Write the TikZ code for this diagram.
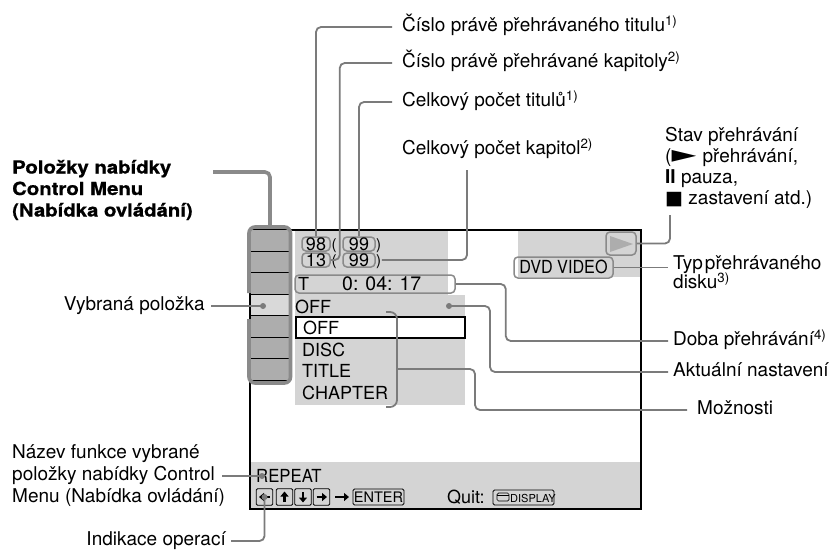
\documentclass[tikz,border=0pt]{standalone}
\usepackage{fontspec}
\setmainfont{TeX Gyre Heros}
\newfontfamily\symfont{DejaVu Sans}
\newfontfamily\heavyfont[FakeStretch=1.13,FakeBold=0.8]{TeX Gyre Heros}
\usetikzlibrary{arrows.meta,calc}
\definecolor{leadc}{HTML}{7B7B7B}
\definecolor{areac}{HTML}{D4D4D4}
\definecolor{rowc}{HTML}{ADADAD}
\definecolor{selc}{HTML}{D9D9D9}
\definecolor{boxc}{HTML}{8A8A8A}
\newcommand\lblfont{\fontsize{19}{22}\selectfont}
\newcommand\scrfont{\fontsize{18}{21}\selectfont}
\tikzset{
  lbl/.style={inner sep=0pt, font=\lblfont, text height=13.5pt, text depth=4pt, anchor=west},
  lble/.style={lbl, anchor=east},
  scr/.style={inner sep=0pt, font=\scrfont, text height=13pt, text depth=0pt, anchor=west},
  paren/.style={inner sep=0pt, font=\fontsize{15}{16}\selectfont, text height=11pt, text depth=0pt, anchor=west},
  head/.style={inner sep=0pt, font={\heavyfont\bfseries\fontsize{18}{21}\selectfont}, text height=13pt, text depth=4pt, anchor=west},
  leader/.style={draw=leadc, line width=1.8pt, rounded corners=5pt},
  rbox/.style={draw=boxc, line width=1.5pt, rounded corners=4pt, inner sep=0pt, font=\scrfont, text height=12.5pt, text depth=0pt},
  keybox/.style={draw=black, line width=0.9pt, rounded corners=1.2pt, minimum width=16.5pt, minimum height=16.5pt, inner sep=0pt},
  keyarr/.style={line width=2.2pt, -{Triangle[length=5pt,width=8pt]}},
  ldot/.style={circle, fill=leadc, inner sep=0pt, minimum size=6pt},
}
\begin{document}
\begin{tikzpicture}[x=1pt,y=-1pt]
\useasboundingbox (0,0) rectangle (831,552);
\fill[white] (0,0) rectangle (831,552);

% ---------- screen ----------
\fill[areac] (295,230) rectangle (448,295);
\fill[areac] (295,295) rectangle (465,405);
\fill[areac] (518,230) rectangle (641,277);
\fill[areac] (250,462) rectangle (641,509);
\draw[line width=1.6pt] (250,230) rectangle (641,509);

% menu column
\foreach \i in {0,1,2,4,5,6} \fill[rowc] (251,{230+21.43*\i}) rectangle (289.5,{230+21.43*(\i+1)});
\fill[selc] (251,{230+21.43*3}) rectangle (289.5,{230+21.43*4});
\foreach \i in {1,...,7} \draw[line width=1pt] (251,{230+21.43*\i}) -- (289.5,{230+21.43*\i});
\draw[line width=0.8pt] (289,230) -- (289,380);
\draw[boxc, line width=3.6pt, rounded corners=6pt] (249,293) -- (249,227) -- (290.5,227) -- (290.5,383) -- (249,383) -- (249,319);
\coordinate (colTop) at (270,227);
\node[ldot] (dotV) at (263,306) {};

% numbers
\node[rbox, minimum width=28pt, minimum height=14pt] (b98) at (316,244) {98};
\node[paren] (p1) at (331.5,244) {(};
\node[rbox, minimum width=32pt, minimum height=14pt] (b99a) at (359,244) {99};
\node[paren] (p2) at (376,244) {)};
\node[rbox, minimum width=28pt, minimum height=14pt] (b13) at (316,260) {13};
\node[paren] (p3) at (331.5,260) {(};
\node[rbox, minimum width=32pt, minimum height=14pt] (b99b) at (359,260) {99};
\node[paren] (p4) at (376,260) {)};

% time
\node[rbox, minimum width=160pt, minimum height=18pt] (tbox) at (375,284) {};
\node[scr] (tT) at (298,284) {T};
\node[scr, font=\fontsize{19.5}{21}\selectfont] (tTime) at (342,284) {0:\hspace{7pt}04:\hspace{7pt}17};

% options
\node[scr] (off0) at (295,307) {OFF};
\node[ldot] (dotA) at (449,306) {};
\node[draw, line width=1.2pt, fill=white, minimum width=169pt, minimum height=21pt, inner sep=0pt] (selbox) at (380.5,327.5) {};
\node[scr] (o1) at (303,328) {OFF};
\node[scr] (o2) at (302,349.5) {DISC};
\node[scr] (o3) at (302,371) {TITLE};
\node[scr] (o4) at (302,392.5) {CHAPTER};
\draw[leadc, line width=1.8pt, rounded corners=7pt] (386,312) -- (397,312) -- (397,407) -- (386,407);
\coordinate (brc) at (397,369);

% top right
\node[rbox, minimum width=30pt, minimum height=23pt] (play) at (621,243.5) {};
\fill[rowc] (610,236) -- (633,244) -- (610,252) -- cycle;
\node[rbox, minimum width=99pt, minimum height=21pt] (dvd) at (563.5,267.5) {\scalebox{0.9}[1]{DVD VIDEO}};

% bottom strip
\node[scr] (rep) at (256,476) {\scalebox{0.93}[1]{REPEAT}};
\node[ldot] (repDot) at (262,476) {};
\node[keybox] (k1) at (264.5,497) {};
\node[keybox] (k2) at (284.5,497) {};
\node[keybox] (k3) at (303,497) {};
\node[keybox] (k4) at (321.5,497) {};
\draw[keyarr] ([xshift=5pt]k1.center) -- ([xshift=-5.5pt]k1.center);
\draw[keyarr] ([yshift=-5pt]k2.center) -- ([yshift=5.5pt]k2.center);
\draw[keyarr] ([yshift=5pt]k3.center) -- ([yshift=-5.5pt]k3.center);
\draw[keyarr] ([xshift=-5pt]k4.center) -- ([xshift=5.5pt]k4.center);
\node[ldot] (indDot) at (264.5,497) {};
\coordinate (ea) at (335,497);
\coordinate (eb) at (349,497);
\draw[keyarr] (ea) -- (eb);
\node[draw, line width=0.9pt, rounded corners=1.5pt, minimum width=51pt, minimum height=16pt, inner sep=0pt, font=\fontsize{14.5}{15}\selectfont] (enter) at (378.5,497) {ENTER};
\node[scr] (quit) at (447,497) {Quit:};
\node[draw, line width=0.9pt, rounded corners=1.5pt, minimum width=61pt, minimum height=15pt, inner sep=0pt] (disp) at (523.5,497.5) {};
\draw[line width=0.7pt, rounded corners=1.5pt] (497,493) rectangle (509,501);
\draw[line width=0.7pt] (497,495.5) -- (509,495.5);
\node[inner sep=0pt, anchor=west, font=\fontsize{11}{12}\selectfont] (dispt) at (510,498) {DISPLAY};

% ---------- labels ----------
\node[lbl] (l1) at (402,27) {Číslo právě přehrávaného titulu\textsuperscript{1)}};
\node[lbl] (l2) at (402,63) {Číslo právě přehrávané kapitoly\textsuperscript{2)}};
\node[lbl] (l3) at (402,102) {Celkový počet titulů\textsuperscript{1)}};
\node[lbl] (l4) at (402,150) {Celkový počet kapitol\textsuperscript{2)}};
\coordinate (l4p) at (467,170);

\node[lbl] (st1) at (665,137) {Stav přehrávání};
\node[lbl] (st2) at (665,158) {(\raisebox{0.5pt}{\symfont\scalebox{1.7}[1.25]{►}}\hspace{1pt} přehrávání,};
\node[lbl] (st3) at (665,179) {\textbf{II} pauza,};
\node[lbl] (st4) at (665,200) {{\symfont ■} zastavení atd.)};
\coordinate (stEnd) at (670,215);

\node[lbl] (ty1) at (673,265) {Typ\hspace{2pt}přehrávaného};
\node[lbl] (ty2) at (673,284) {disku\textsuperscript{3)}};
\node[lbl] (db) at (673,341) {Doba přehrávání\textsuperscript{4)}};
\node[lbl] (ak) at (673,372) {Aktuální nastavení};
\node[lbl] (mz) at (697,410) {Možnosti};

\node[head] (hd1) at (12,169) {Položky nabídky};
\node[head] (hd2) at (12,190.5) {Control Menu};
\node[head] (hd3) at (12,212) {(Nabídka ovládání)};
\coordinate (hdl) at (213,172);

\node[lble] (vy) at (205,306) {Vybraná položka};
\node[lbl] (nz1) at (12,454) {Název funkce vybrané};
\node[lbl] (nz2) at (12,476) {položky nabídky Control};
\node[lbl] (nz3) at (12,498) {Menu (Nabídka ovládání)};
\node[lble] (ind) at (226,541) {Indikace operací};

% ---------- leaders ----------
\draw[leader] ([xshift=-10pt]l1.west) -| (b98.north);
\draw[leader] ([xshift=-10pt]l2.west) -| ([xshift=9pt]b13.east) -- (b13.east);
\draw[leader] ([xshift=-10pt]l3.west) -| (b99a.north);
\draw[leader] (l4p) |- ([xshift=6pt]b99b.east);
\draw[leader] (play.east) -| (stEnd);
\draw[leader] (dvd.east) -- ($(dvd.east -| ty1.west)+(-5,0)$);
\draw[leader] (tbox.east) -- ++(50,0) |- ([xshift=-5pt]db.west);
\draw[leader] (dotA.center) -- ++(41,0) |- ([xshift=-5pt]ak.west);
\draw[leader] (brc) -- ++(78,0) |- ([xshift=-10pt]mz.west);
\draw[leader, line width=3.6pt, draw=boxc] (hdl) -| (colTop);
\draw[leader] ([xshift=6pt]vy.east) -- (dotV.center);
\draw[leader] ([xshift=7pt]nz2.east) -- (repDot.center);
\draw[leader] ([xshift=5pt]ind.east) -| (indDot.center);
\end{tikzpicture}
\end{document}
